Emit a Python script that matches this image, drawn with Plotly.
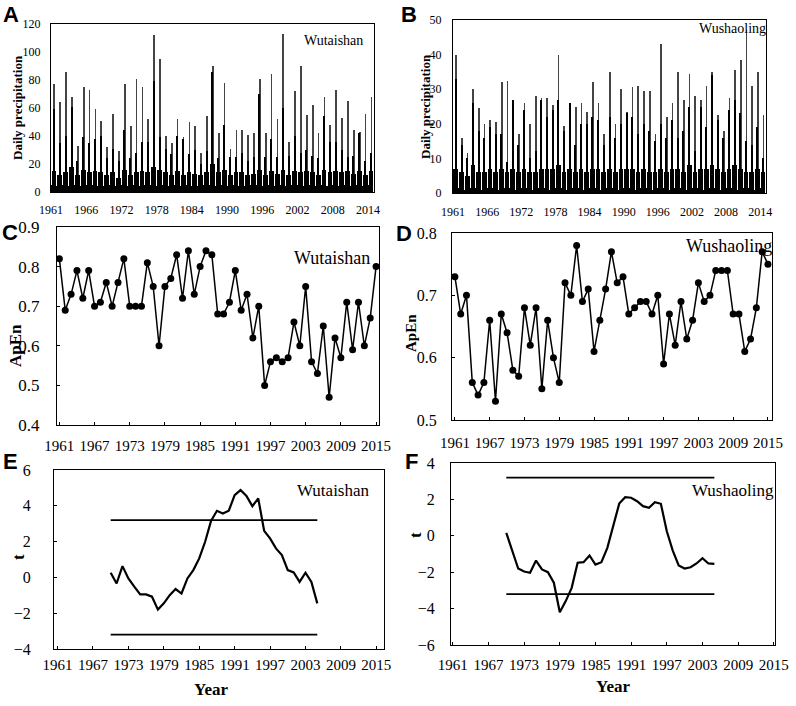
import pandas as pd
import plotly.graph_objects as go

# ---- data ----
years = list(range(1961, 2016))

# A / B: daily precipitation, summarised per year (tallest spike, summer black mass,
# dense wet-season level, winter floor)
a_peak = [77, 64, 86, 68, 33, 75, 73, 59, 51, 32, 56, 29, 77, 47, 81, 75, 52, 112, 95, 40,
          35, 52, 39, 50, 47, 28, 54, 90, 42, 78, 31, 44, 44, 41, 42, 81, 42, 84, 52, 113,
          36, 72, 90, 55, 62, 42, 68, 48, 73, 53, 65, 44, 43, 56, 68]
a_second = [59, 35, 40, 61, 22, 39, 35, 38, 40, 24, 31, 22, 44, 24, 28, 36, 36, 79, 39, 31,
            27, 40, 38, 27, 30, 20, 29, 86, 24, 48, 25, 25, 28, 22, 25, 70, 25, 38, 25, 60,
            26, 40, 28, 30, 26, 24, 54, 36, 36, 30, 25, 26, 42, 22, 28]
a_base = [15, 12, 14, 18, 12, 16, 14, 15, 14, 12, 14, 10, 16, 12, 14, 15, 14, 18, 16, 14,
          12, 15, 12, 14, 13, 12, 14, 20, 14, 16, 12, 14, 14, 12, 13, 16, 12, 15, 13, 16,
          12, 15, 14, 15, 14, 12, 16, 14, 15, 14, 15, 13, 15, 12, 15]
a_winter = [5, 4, 5, 4, 5, 4, 5, 5, 4, 4, 5, 4, 5, 4, 5, 4, 5, 5, 4, 5,
            4, 5, 4, 5, 4, 4, 5, 5, 4, 5, 4, 5, 4, 4, 5, 5, 4, 5, 4, 5,
            4, 5, 5, 4, 5, 4, 5, 4, 5, 4, 5, 4, 5, 4, 5]

b_peak = [40, 16, 11.5, 30, 24.5, 20, 21, 20.5, 32, 32.5, 27, 17, 26, 20, 28, 27.5, 27.5, 25.5,
          40, 19.5, 26, 25, 26, 23.5, 32, 26, 17, 35, 20, 30, 23.5, 30.5, 31, 29.5, 29.5, 17,
          43, 22, 26, 35, 27, 34.5, 28, 27, 31, 35, 22.5, 18, 27.5, 35.5, 38.5, 47, 31, 35, 22.5]
b_second = [33, 14, 10, 26, 18, 16, 19, 17, 17, 9, 27, 14, 24, 10, 12, 27, 22, 24, 27, 18,
            26, 14, 20, 20, 22, 21, 14, 22, 16, 20, 23, 22, 17, 20, 18, 15, 20, 16, 21, 16,
            18, 25, 12, 25, 19, 34, 21, 16, 24, 27, 23, 15, 14, 19, 10]
b_base = [7, 6, 5, 8, 6, 6, 7, 6, 7, 6, 7, 6, 7, 6, 6, 7, 7, 7, 8, 6,
          7, 6, 7, 6, 7, 7, 6, 7, 6, 7, 7, 7, 6, 7, 6, 6, 7, 6, 7, 7,
          6, 8, 6, 7, 7, 8, 7, 6, 7, 8, 7, 6, 6, 7, 6]
b_winter = [1.5, 1.5, 1, 1.5, 1.5, 1, 1.5, 1.5, 1, 1.5, 1.5, 1, 1.5, 1.5, 1, 1.5, 1.5, 1, 1.5, 1.5,
            1, 1.5, 1.5, 1, 1.5, 1.5, 1, 1.5, 1.5, 1, 1.5, 1.5, 1, 1.5, 1.5, 1, 1.5, 1.5, 1, 1.5,
            1.5, 1, 1.5, 1.5, 1, 1.5, 1.5, 1, 1.5, 1.5, 1, 1.5, 1.5, 1, 1.5]
daily_tick_labels = ["1961", "1966", "1972", "1978", "1984", "1990", "1996", "2002", "2008", "2014"]

# C / D: approximate entropy per year
apen_wutaishan = [0.82, 0.69, 0.73, 0.79, 0.72, 0.79, 0.70, 0.71, 0.76, 0.70,
                  0.76, 0.82, 0.70, 0.70, 0.70, 0.81, 0.75, 0.60, 0.75, 0.77,
                  0.83, 0.72, 0.84, 0.73, 0.80, 0.84, 0.83, 0.68, 0.68, 0.71,
                  0.79, 0.69, 0.73, 0.62, 0.70, 0.50, 0.56, 0.57, 0.56, 0.57,
                  0.66, 0.60, 0.75, 0.56, 0.53, 0.65, 0.47, 0.62, 0.57, 0.71,
                  0.59, 0.71, 0.60, 0.67, 0.80]
apen_wushaoling = [0.73, 0.67, 0.70, 0.56, 0.54, 0.56, 0.66, 0.53, 0.67, 0.64,
                   0.58, 0.57, 0.68, 0.62, 0.68, 0.55, 0.66, 0.60, 0.56, 0.72,
                   0.70, 0.78, 0.69, 0.71, 0.61, 0.66, 0.71, 0.77, 0.72, 0.73,
                   0.67, 0.68, 0.69, 0.69, 0.67, 0.70, 0.59, 0.67, 0.62, 0.69,
                   0.63, 0.66, 0.72, 0.69, 0.70, 0.74, 0.74, 0.74, 0.67, 0.67,
                   0.61, 0.63, 0.68, 0.77, 0.75]

# E / F: moving t-test statistic
t_years = list(range(1970, 2006))
t_wutaishan = [0.26, -0.34, 0.63, -0.06, -0.52, -0.95, -0.95, -1.08, -1.8, -1.45,
               -0.99, -0.65, -0.9, -0.06, 0.41, 1.06, 1.99, 3.15, 3.72, 3.57,
               3.72, 4.6, 4.88, 4.55, 3.98, 4.41, 2.6, 2.18, 1.62, 1.25,
               0.41, 0.28, -0.25, 0.26, -0.25, -1.45]
t_wushaoling = [0.16, -0.85, -1.8, -1.96, -2.03, -1.36, -1.85, -2.0, -2.58, -4.2,
                -3.59, -2.86, -1.48, -1.45, -1.08, -1.58, -1.45, -0.66, 0.53, 1.77,
                2.12, 2.09, 1.9, 1.63, 1.54, 1.85, 1.76, 0.25, -0.81, -1.63,
                -1.8, -1.73, -1.52, -1.23, -1.52, -1.54]
t_critical = 3.2
apen_ticks = list(range(1961, 2016, 6))

# ---- layout helpers ----
W, H = 796, 706
SERIF = "Liberation Serif"
SANS = "Liberation Sans"
DAY_MS = 86400000


def dom_x(left, right):
    return [left / W, right / W]


def dom_y(top, bottom):
    return [1 - bottom / H, 1 - top / H]


def axis_style(**kw):
    base = dict(
        showline=True, mirror=True, linecolor="black", linewidth=1,
        ticks="inside", ticklen=3, tickcolor="black",
        showgrid=False, zeroline=False, automargin=False,
        tickfont=dict(family=SERIF, size=15, color="black"),
    )
    base.update(kw)
    return base


fig = go.Figure()

tick_dates = pd.date_range("1961-01-01", periods=len(daily_tick_labels), freq="2190D")


def add_daily(peak, second, base, winter, xa, ya):
    fig.add_trace(go.Bar(x=[f"{y}-07-25" for y in years], y=peak, width=45 * DAY_MS,
                         marker=dict(color="#444444", line=dict(width=0)),
                         xaxis=xa, yaxis=ya, showlegend=False))
    fig.add_trace(go.Bar(x=[f"{y}-07-05" for y in years], y=second, width=70 * DAY_MS,
                         marker=dict(color="black", line=dict(width=0)),
                         xaxis=xa, yaxis=ya, showlegend=False))
    fig.add_trace(go.Bar(x=[f"{y}-07-01" for y in years], y=base, width=300 * DAY_MS,
                         marker=dict(color="black", line=dict(width=0)),
                         xaxis=xa, yaxis=ya, showlegend=False))
    fig.add_trace(go.Bar(x=[f"{y}-01-01" for y in years], y=winter, width=140 * DAY_MS,
                         marker=dict(color="black", line=dict(width=0)),
                         xaxis=xa, yaxis=ya, showlegend=False))


add_daily(a_peak, a_second, a_base, a_winter, "x", "y")
add_daily(b_peak, b_second, b_base, b_winter, "x2", "y2")

for vals, xa, ya in [(apen_wutaishan, "x3", "y3"), (apen_wushaoling, "x4", "y4")]:
    fig.add_trace(go.Scatter(x=years, y=vals, mode="lines+markers",
                             line=dict(color="black", width=1.5),
                             marker=dict(color="black", size=7),
                             xaxis=xa, yaxis=ya, showlegend=False))

for vals, xa, ya in [(t_wutaishan, "x5", "y5"), (t_wushaoling, "x6", "y6")]:
    fig.add_trace(go.Scatter(x=t_years, y=vals, mode="lines",
                             line=dict(color="black", width=2.2),
                             xaxis=xa, yaxis=ya, showlegend=False))
    for level in (t_critical, -t_critical):
        fig.add_trace(go.Scatter(x=[t_years[0], t_years[-1]], y=[level, level], mode="lines",
                                 line=dict(color="black", width=1.8),
                                 xaxis=xa, yaxis=ya, showlegend=False))

small = dict(family=SERIF, size=12, color="black")
fig.update_layout(
    width=W, height=H, margin=dict(l=0, r=0, t=0, b=0),
    paper_bgcolor="white", plot_bgcolor="white",
    barmode="overlay", bargap=0,
    xaxis=axis_style(domain=dom_x(51, 374), anchor="y", type="date",
                     range=["1961-01-01", "2015-12-31"], tickvals=list(tick_dates),
                     ticktext=daily_tick_labels, ticks="", tickfont=small, ticklabelstandoff=7),
    yaxis=axis_style(domain=dom_y(24, 192), anchor="x", range=[0, 120], dtick=20,
                     ticks="", tickfont=small, ticklabelstandoff=7),
    xaxis2=axis_style(domain=dom_x(453, 766), anchor="y2", type="date",
                      range=["1961-01-01", "2015-12-31"], tickvals=list(tick_dates),
                      ticktext=daily_tick_labels, ticks="", tickfont=small, ticklabelstandoff=8),
    yaxis2=axis_style(domain=dom_y(20, 193), anchor="x2", range=[0, 50], dtick=10,
                      ticks="", tickfont=small, ticklabelstandoff=8),
    xaxis3=axis_style(domain=dom_x(57, 379), anchor="y3", range=[1960.6, 2015.5],
                      tickvals=apen_ticks, ticklabelstandoff=7),
    yaxis3=axis_style(domain=dom_y(227, 425), anchor="x3", range=[0.4, 0.9], dtick=0.1,
                      tickformat=".1f", tickfont=dict(family=SERIF, size=17, color="black"),
                      ticklabelstandoff=13),
    xaxis4=axis_style(domain=dom_x(452, 772), anchor="y4", range=[1960.5, 2015.7],
                      tickvals=apen_ticks, ticklabelstandoff=9),
    yaxis4=axis_style(domain=dom_y(233, 420), anchor="x4", range=[0.5, 0.8], dtick=0.1,
                      tickformat=".1f", tickfont=dict(family=SERIF, size=16, color="black"),
                      ticklabelstandoff=11),
    xaxis5=axis_style(domain=dom_x(54, 384), anchor="y5", range=[1960.4, 2016.3],
                      tickvals=apen_ticks, ticklabelstandoff=2),
    yaxis5=axis_style(domain=dom_y(470, 649), anchor="x5", range=[-4, 6], dtick=2,
                      tickfont=dict(family=SERIF, size=16, color="black"), ticklabelstandoff=19),
    xaxis6=axis_style(domain=dom_x(451, 775), anchor="y6", range=[1960.7, 2015.2],
                      tickvals=apen_ticks, ticklabelstandoff=6),
    yaxis6=axis_style(domain=dom_y(463, 645), anchor="x6", range=[-6, 4], dtick=2,
                      tickfont=dict(family=SERIF, size=16, color="black"), ticklabelstandoff=12),
)


def note(text, x, y, size, family=SERIF, bold=False, angle=0, xanchor="center"):
    fig.add_annotation(
        text=f"<b>{text}</b>" if bold else text, x=x / W, y=1 - y / H,
        xref="paper", yref="paper", showarrow=False, textangle=angle,
        xanchor=xanchor, yanchor="middle",
        font=dict(family=family, size=size, color="black"),
    )


for letter, lx, ly in [("A", 11, 14), ("B", 409, 14), ("C", 10, 232),
                       ("D", 404, 234), ("E", 10, 461), ("F", 411, 461)]:
    note(letter, lx, ly, 22, family=SANS, bold=True)

note("Wutaishan", 333, 41, 14)
note("Wushaoling", 732, 28, 14)
note("Wutaishan", 332, 258, 18)
note("Wushaoling", 729, 246, 18)
note("Wutaishan", 333, 490, 17)
note("Wushaoling", 733, 490, 17)

note("Daily precipitation", 17, 108, 13, bold=True, angle=-90)
note("Daily precipitation", 426, 107, 13, bold=True, angle=-90)
note("ApEn", 15, 345, 17, bold=True, angle=-90)
note("ApEn", 411, 333, 15, bold=True, angle=-90)
note("t", 18, 557, 17, bold=True, angle=-90)
note("t", 415, 535, 17, bold=True, angle=-90)
note("Year", 211, 689, 17, bold=True)
note("Year", 613, 686, 17, bold=True)

# the page body keeps an 8px margin by default; drop it so the figure fills the window
fig.write_html("out.html", config={"displayModeBar": False},
               post_script="document.body.style.margin = '0px';")
